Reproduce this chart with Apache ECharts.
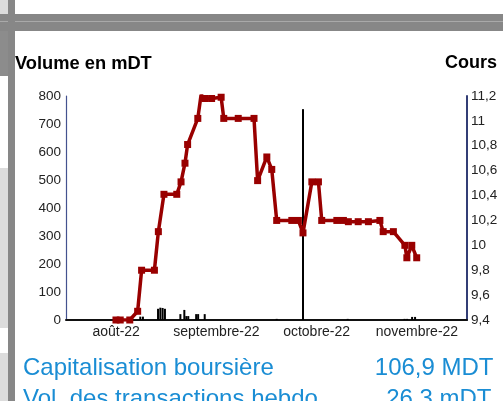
<!DOCTYPE html>
<html lang="fr">
<head>
    <meta charset="UTF-8">
    <title>Volume et cours</title>
    <style>
        html, body { margin: 0; padding: 0; background: #fff; }
        #chart { width: 503px; height: 401px; }
    </style>
</head>
<body>
    <div id="chart"></div>
    <script src="https://cdn.jsdelivr.net/npm/echarts@6/dist/echarts.min.js"></script>
    <script>
        // mois affichés sous l'axe
        var months = ['août-22', 'septembre-22', 'octobre-22', 'novembre-22'];

        // position en jours depuis le 1er août
        var priceDays = [15.2, 16.5, 19.4, 21.8, 23.0, 26.9, 28.1, 29.8, 33.7, 35.0, 36.2, 37.0, 40.1, 41.1,
            42.3, 44.3, 47.2, 48.0, 52.4, 57.2, 58.3, 61.1, 62.6, 64.1, 68.7, 70.7, 72.1, 74.8, 76.8, 77.8,
            82.4, 84.4, 85.9, 88.9, 92.0, 95.5, 96.5, 99.6, 103.1, 103.7, 105.2, 106.7];
        var priceValues = [9.40, 9.40, 9.40, 9.47, 9.80, 9.80, 10.11, 10.41, 10.41, 10.51, 10.66, 10.81, 11.02, 11.21,
            11.18, 11.18, 11.19, 11.02, 11.02, 11.02, 10.52, 10.71, 10.61, 10.20, 10.20, 10.20, 10.10, 10.51, 10.51, 10.20,
            10.20, 10.20, 10.19, 10.19, 10.19, 10.20, 10.11, 10.11, 10.00, 9.90, 10.00, 9.90];

        var volDays = [22.6, 23.4, 28.0, 28.7, 29.4, 30.1, 34.8, 36.0, 36.6, 37.2, 39.6, 40.2, 42.2,
            64.1, 72.1, 85.7, 103.0, 103.8, 105.3, 106.2];
        var volValues = [12, 12, 40, 44, 43, 40, 21, 36, 14, 14, 21, 21, 21,
            4, 753, 4, 4, 4, 11, 11];

        var font = '"Liberation Sans", Arial, sans-serif';
        var blue = '#1a8dd4';

        function zip(a, b) {
            return a.map(function (d, i) { return [d, b[i]]; });
        }

        var chart = echarts.init(document.getElementById('chart'));

        chart.setOption({
            animation: false,
            textStyle: { fontFamily: font },
            grid: { left: 66, right: 36, top: 96, bottom: 81 },
            xAxis: [
                {
                    type: 'value', min: 0, max: 122, position: 'bottom',
                    show: false, splitLine: { show: false }
                },
                {
                    type: 'category', data: months, position: 'bottom', boundaryGap: true,
                    axisLine: { lineStyle: { color: '#111', width: 2 } },
                    axisTick: { show: false },
                    axisLabel: { color: '#222', fontSize: 14, margin: 5, interval: 0, hideOverlap: false }
                }
            ],
            yAxis: [
                {
                    type: 'value', min: 0, max: 800, interval: 100,
                    axisLine: { show: true, lineStyle: { color: '#44528f', width: 1.2 } },
                    axisTick: { show: false },
                    splitLine: { show: false },
                    axisLabel: { color: '#222', fontSize: 13.5, margin: 5 }
                },
                {
                    type: 'value', min: 9.4, max: 11.2, interval: 0.2, position: 'right',
                    axisLine: { show: true, lineStyle: { color: '#333d75', width: 2 } },
                    axisTick: { show: false },
                    splitLine: { show: false },
                    axisLabel: {
                        color: '#222', fontSize: 13.5, margin: 4,
                        formatter: function (v) {
                            return (Math.round(v * 10) / 10).toString().replace('.', ',');
                        }
                    }
                }
            ],
            series: [
                {
                    name: 'Volume',
                    type: 'bar',
                    xAxisIndex: 0, yAxisIndex: 0,
                    barWidth: 2,
                    itemStyle: { color: '#000' },
                    data: zip(volDays, volValues)
                },
                {
                    name: 'Cours',
                    type: 'line',
                    xAxisIndex: 0, yAxisIndex: 1,
                    symbol: 'rect', symbolSize: 7,
                    lineStyle: { color: '#990000', width: 3.5 },
                    itemStyle: { color: '#990000' },
                    data: zip(priceDays, priceValues),
                    z: 3
                }
            ],
            graphic: [
                // cadre gris de la page
                { type: 'rect', shape: { x: 0, y: 0, width: 8, height: 14 }, style: { fill: '#dcdcdc' } },
                { type: 'rect', shape: { x: 0, y: 14, width: 503, height: 17 }, style: { fill: '#878787' } },
                { type: 'rect', shape: { x: 0, y: 21, width: 503, height: 1 }, style: { fill: '#a9a9a9' } },
                { type: 'rect', shape: { x: 8, y: 0, width: 7, height: 401 }, style: { fill: '#878787' } },
                { type: 'rect', shape: { x: 0, y: 31, width: 8, height: 45 }, style: { fill: '#8c8c8c' } },
                { type: 'rect', shape: { x: 0, y: 168, width: 8, height: 160 }, style: { fill: '#dcdcdc' } },
                { type: 'rect', shape: { x: 0, y: 353, width: 8, height: 48 }, style: { fill: '#dcdcdc' } },
                // titres des axes
                { type: 'text', style: { text: 'Volume en mDT', x: 15, y: 63.5, textVerticalAlign: 'middle',
                    font: 'bold 18.3px ' + font, fill: '#000' } },
                { type: 'text', style: { text: 'Cours', x: 497, y: 63.5, textAlign: 'right', textVerticalAlign: 'middle',
                    font: 'bold 18px ' + font, fill: '#000' } },
                // chiffres clés
                { type: 'text', style: { text: 'Capitalisation boursière', x: 23, y: 368.5, textVerticalAlign: 'middle',
                    font: '24px ' + font, fill: blue } },
                { type: 'text', style: { text: '106,9 MDT', x: 493.5, y: 368.5, textAlign: 'right', textVerticalAlign: 'middle',
                    font: '24px ' + font, fill: blue } },
                { type: 'text', style: { text: 'Vol. des transactions hebdo', x: 23, y: 399.5, textVerticalAlign: 'middle',
                    font: '24px ' + font, fill: blue } },
                { type: 'text', style: { text: '26,3 mDT', x: 491.5, y: 399.5, textAlign: 'right', textVerticalAlign: 'middle',
                    font: '24px ' + font, fill: blue } }
            ]
        });
    </script>
</body>
</html>
